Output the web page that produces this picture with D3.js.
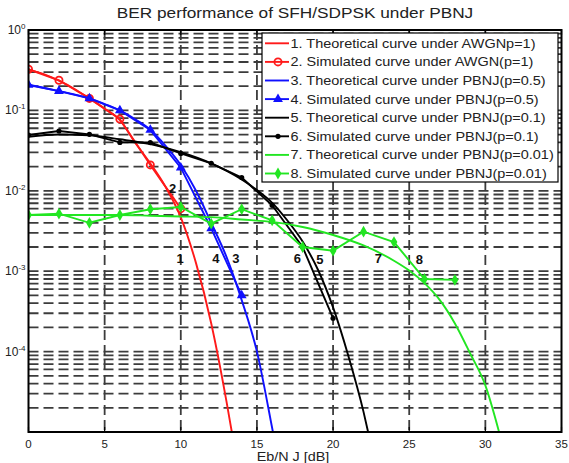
<!DOCTYPE html>
<meta charset="utf-8">
<script src="https://d3js.org/d3.v7.min.js"></script>
<style>
    body{margin:0;background:#fff;}
    text{font-family:"Liberation Sans",Arial,sans-serif;}
</style>
<div id="ber"></div>
<script>
    // values (x = Eb/NJ in dB, y = BER)
    const xTicks=[0,5,10,15,20,25,30,35];
    const yTickExps=[0,-1,-2,-3,-4];

    const theoAwgnX=[0,1,2,3,4,5,6,7,8,9,10,11,12,13,13.35];
    const theoAwgnY=[0.324,0.282,0.234,0.186,0.141,0.105,0.0759,0.0398,0.0219,0.0112,0.00468,0.00126,0.000224,0.000024,0.00001];
    const simAwgnX=[0,2,4,6,8,10];
    const simAwgnY=[0.325,0.237,0.141,0.078,0.021,0.006];

    const theoP05X=[0,1,2,3,4,5,6,7,8,9,10,11,12,13,14,15,16,16.05];
    const theoP05Y=[0.209,0.191,0.174,0.158,0.141,0.120,0.1,0.0776,0.0575,0.0363,0.0209,0.01,0.00398,0.00151,0.000437,0.0001,0.0000112,0.00001];
    const simP05X=[0,2,4,6,8,10,12,14];
    const simP05Y=[0.207,0.174,0.141,0.1,0.057,0.0194,0.0034,0.0005];

    const theoP01X=[0,2,4,6,8,10,12,14,15,16,17,18,19,20,21,22,22.3];
    const theoP01Y=[0.0468,0.0501,0.049,0.0437,0.038,0.0302,0.0219,0.0138,0.0102,0.00708,0.00427,0.00234,0.00105,0.000355,0.000089,0.0000178,0.00001];
    const simP01X=[0,2,4,6,8,10,12,14,16,18,20];
    const simP01Y=[0.0494,0.0554,0.0504,0.040,0.0398,0.0292,0.022,0.0146,0.0066,0.002,0.00026];

    const theoP001X=[0,2,4,6,8,10,12,14,16,18,20,22,24,25,26,27,28,29,30,30.9];
    const theoP001Y=[0.005,0.005,0.005,0.005,0.0049,0.0048,0.0047,0.0044,0.0041,0.00355,0.00282,0.00209,0.00135,0.00102,0.00071,0.00044,0.000224,0.000095,0.000038,0.00001];
    const simP001X=[0,2,4,6,8,10,12,14,16,18,20,22,24,26,28];
    const simP001Y=[0.005,0.0052,0.004,0.005,0.0059,0.0063,0.0039,0.0059,0.0043,0.002,0.0018,0.0031,0.0023,0.0008,0.00078];

    const legendLabels=[
        "1. Theoretical curve under AWGNp=1)",
        "2. Simulated curve under AWGN(p=1)",
        "3. Theoretical curve under PBNJ(p=0.5)",
        "4. Simulated curve under PBNJ(p=0.5)",
        "5. Theoretical curve under PBNJ(p=0.1)",
        "6. Simulated curve under PBNJ(p=0.1)",
        "7. Theoretical curve under PBNJ(p=0.01)",
        "8. Simulated curve under PBNJ(p=0.01)"
    ];
    const curveTags=["1","2","4","3","6","5","7","8"];
    const curveTagX=[9.95,9.47,12.31,13.62,17.65,19.14,22.97,25.66];
    const curveTagY=[0.00145,0.0107,0.00145,0.00145,0.00145,0.00138,0.00145,0.00141];

    const margin={top:30,bottom:31,left:28.5,right:7.5},
        width=569-margin.left-margin.right,
        height=463-margin.top-margin.bottom;
    const stretch=1.15; // the picture's text is a bit wide

    const svg=d3.select("#ber")
        .append("svg")
            .attr("width",569)
            .attr("height",463)
        .append("g")
            .attr("transform",`translate(${margin.left},${margin.top})`);

    const x=d3.scaleLinear().domain([0,35]).range([0,width]);
    const y=d3.scaleLog().domain([1e-5,1]).range([height,0]);

    // grid (major + minor), dashed
    const gridY=[];
    for(let d=-5;d<0;d++) for(let k=1;k<10;k++) if(!(d===-5&&k===1)) gridY.push(k*Math.pow(10,d));
    svg.append("g").selectAll("line")
        .data(gridY)
        .join("line")
            .attr("x1",0).attr("x2",width)
            .attr("y1",d=>y(d)).attr("y2",d=>y(d))
            .attr("stroke","#3c3c3c")
            .attr("stroke-width",1.8)
            .attr("stroke-dasharray","10,5");
    svg.append("g").selectAll("line")
        .data(xTicks.slice(1,-1))
        .join("line")
            .attr("x1",d=>x(d)).attr("x2",d=>x(d))
            .attr("y1",0).attr("y2",height)
            .attr("stroke","#3c3c3c")
            .attr("stroke-width",1.8)
            .attr("stroke-dasharray","10,5");

    // inward ticks
    const tk=svg.append("g").attr("stroke","#000").attr("stroke-width",1.2);
    xTicks.forEach(t=>{
        tk.append("line").attr("x1",x(t)).attr("x2",x(t)).attr("y1",height).attr("y2",height-5);
        tk.append("line").attr("x1",x(t)).attr("x2",x(t)).attr("y1",0).attr("y2",5);
    });

    // x tick labels
    svg.append("g").selectAll("text")
        .data(xTicks)
        .join("text")
            .attr("x",d=>x(d))
            .attr("y",height+15.5)
            .attr("text-anchor","middle")
            .attr("font-size",11.5)
            .attr("fill","#222")
            .text(d=>d);

    // y tick labels 10^n
    const yl=svg.append("g").selectAll("text")
        .data(yTickExps)
        .join("text")
            .attr("x",-3)
            .attr("y",d=>y(Math.pow(10,d))+4)
            .attr("text-anchor","end")
            .attr("font-size",12)
            .attr("fill","#222");
    yl.append("tspan").text("10");
    yl.append("tspan").attr("font-size",8).attr("dy",-5).text(d=>d===0?"0":"-"+(-d));

    // curves
    svg.append("clipPath").attr("id","clip")
        .append("rect").attr("width",width).attr("height",height);
    const plot=svg.append("g").attr("clip-path","url(#clip)");

    const theoLine=d3.line().x(d=>x(d[0])).y(d=>y(d[1])).curve(d3.curveMonotoneX);
    const simLine=d3.line().x(d=>x(d[0])).y(d=>y(d[1]));

    const series=[
        {tx:theoAwgnX,ty:theoAwgnY,sx:simAwgnX,sy:simAwgnY,color:"#ff1a1a",marker:"circle"},
        {tx:theoP05X,ty:theoP05Y,sx:simP05X,sy:simP05Y,color:"#1010ff",marker:"triangle"},
        {tx:theoP01X,ty:theoP01Y,sx:simP01X,sy:simP01Y,color:"#000000",marker:"dot"},
        {tx:theoP001X,ty:theoP001Y,sx:simP001X,sy:simP001Y,color:"#22e622",marker:"diamond"}
    ];

    function drawMarker(g,type,color,cx,cy){
        if(type==="circle"){
            g.append("circle").attr("cx",cx).attr("cy",cy).attr("r",3.6)
                .attr("fill","none").attr("stroke",color).attr("stroke-width",1.8);
        }else if(type==="triangle"){
            g.append("path").attr("transform",`translate(${cx},${cy})`)
                .attr("d",d3.symbol(d3.symbolTriangle,42)).attr("fill",color);
        }else if(type==="dot"){
            g.append("circle").attr("cx",cx).attr("cy",cy).attr("r",2.6).attr("fill",color);
        }else{
            g.append("path").attr("transform",`translate(${cx},${cy})`)
                .attr("d",d3.symbol(d3.symbolDiamond,40)).attr("fill",color);
        }
    }

    series.forEach(s=>{
        plot.append("path")
            .datum(s.tx.map((v,i)=>[v,s.ty[i]]))
            .attr("d",theoLine)
            .attr("fill","none")
            .attr("stroke",s.color)
            .attr("stroke-width",1.9);
        plot.append("path")
            .datum(s.sx.map((v,i)=>[v,s.sy[i]]))
            .attr("d",simLine)
            .attr("fill","none")
            .attr("stroke",s.color)
            .attr("stroke-width",1.9);
        const mg=plot.append("g");
        s.sx.forEach((v,i)=>drawMarker(mg,s.marker,s.color,x(v),y(s.sy[i])));
    });

    // curve number tags
    svg.append("g").selectAll("text")
        .data(curveTags)
        .join("text")
            .attr("x",(d,i)=>x(curveTagX[i]))
            .attr("y",(d,i)=>y(curveTagY[i])+4.5)
            .attr("text-anchor","middle")
            .attr("font-size",13)
            .attr("font-weight","bold")
            .attr("fill","#111")
            .text(d=>d);

    // axes box
    svg.append("rect")
        .attr("width",width).attr("height",height)
        .attr("fill","none").attr("stroke","#000").attr("stroke-width",2);

    // legend
    const lg=svg.append("g").attr("transform",`translate(${262-margin.left},${33-margin.top})`);
    lg.append("rect").attr("width",296).attr("height",149)
        .attr("fill","#fff").attr("stroke","#000").attr("stroke-width",1.2);
    legendLabels.forEach((lab,i)=>{
        const s=series[Math.floor(i/2)];
        const ry=10.3+i*18.6;
        lg.append("line").attr("x1",3).attr("x2",27).attr("y1",ry).attr("y2",ry)
            .attr("stroke",s.color).attr("stroke-width",1.9);
        if(i%2===1) drawMarker(lg,s.marker,s.color,16,ry);
        lg.append("text")
            .attr("transform",`translate(28.5,${ry+4.5}) scale(${stretch},1)`)
            .attr("font-size",12.6).attr("fill","#222").text(lab);
    });

    // title and x label
    svg.append("text")
        .attr("transform",`translate(${width/2},-12) scale(${stretch},1)`)
        .attr("text-anchor","middle")
        .attr("font-size",15)
        .attr("fill","#222")
        .text("BER performance of SFH/SDPSK under PBNJ");
    svg.append("text")
        .attr("transform",`translate(${width/2-2},${height+28.5}) scale(${stretch},1)`)
        .attr("text-anchor","middle")
        .attr("font-size",12.5)
        .attr("fill","#222")
        .text("Eb/N J [dB]");
</script>
